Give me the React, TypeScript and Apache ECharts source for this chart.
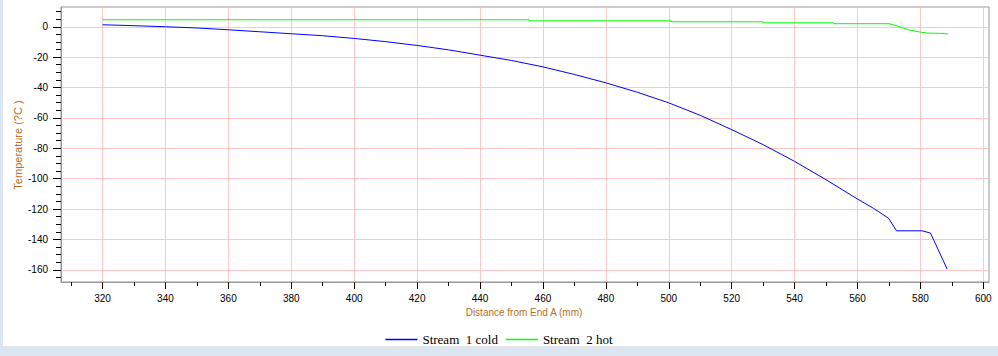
import React, { useEffect, useRef } from "react";
import * as echarts from "echarts";

const xMajorTicks = [320, 340, 360, 380, 400, 420, 440, 460, 480, 500, 520, 540, 560, 580, 600];
const xMinorTicks = [310, 330, 350, 370, 390, 410, 430, 450, 470, 490, 510, 530, 550, 570, 590];
const yMajorTicks = [0, -20, -40, -60, -80, -100, -120, -140, -160];
const yMinorTicks = [10, 5, -5, -10, -15, -25, -30, -35, -45, -50, -55, -65, -70, -75, -85, -90, -95, -105, -110, -115, -125, -130, -135, -145, -150, -155, -165];

const stream1Name = "Stream\u00a0 1 cold";
const stream2Name = "Stream\u00a0 2 hot";

const stream1Cold: [number, number][] = [
  [320, 1.3], [330, 0.7], [340, 0], [350, -0.8], [360, -2.0], [370, -3.3], [380, -4.6],
  [390, -5.9], [400, -7.7], [410, -9.8], [420, -12.3], [430, -15.2], [440, -18.7],
  [450, -22.2], [460, -26.4], [470, -31.4], [480, -36.9], [490, -43.1], [500, -50.1],
  [510, -58.3], [520, -67.7], [530, -77.6], [540, -88.6], [550, -100.7], [560, -113.4],
  [565, -119.4], [569.9, -126.1], [572.4, -134.3], [580.5, -134.3], [583.2, -135.8],
  [588.5, -159.5],
];

const stream2Hot: [number, number][] = [
  [320, 4.6], [455.6, 4.6], [455.6, 3.9], [500.7, 3.9], [500.7, 3.3], [530, 3.3],
  [530, 2.6], [552.4, 2.6], [552.4, 2.0], [570, 2.0], [571.7, 1.1], [576.2, -2.0],
  [579.4, -3.3], [582.1, -4.2], [586, -4.3], [588.8, -4.8],
];

const xMin = 306.8;
const xMax = 601.8;
const yMin = -168;
const yMax = 13;

const sans = "'Liberation Sans', Arial, sans-serif";
const serif = "'Liberation Serif', 'Times New Roman', serif";
const titleColor = "#b86f28";

export default function App() {
  const ref = useRef<HTMLDivElement>(null);

  useEffect(() => {
    if (!ref.current) return;
    const chart = echarts.init(ref.current, undefined, { renderer: "svg" });
    const minorAxisCommon = {
      axisLabel: { show: false },
      splitLine: { show: false },
    };
    chart.setOption({
      animation: false,
      backgroundColor: "transparent",
      grid: {
        left: 61, top: 7, right: 9, bottom: 74,
        show: true, borderColor: "#999", borderWidth: 1, backgroundColor: "#fff",
      },
      xAxis: [
        {
          type: "value", min: xMin, max: xMax, position: "bottom",
          axisLine: { show: true, onZero: false, lineStyle: { color: "#999", width: 1 } },
          axisTick: { show: true, customValues: xMajorTicks, length: 7, lineStyle: { color: "#000" } },
          axisLabel: { customValues: xMajorTicks, margin: 11, fontSize: 10, color: "#000", fontFamily: sans },
          splitLine: { show: true, lineStyle: { color: "#ffc6c6", width: 1 } },
        },
        {
          type: "value", min: xMin, max: xMax, position: "bottom",
          axisLine: { show: false, onZero: false },
          axisTick: { show: true, customValues: xMinorTicks, length: 4, lineStyle: { color: "#000" } },
          ...minorAxisCommon,
        },
      ],
      yAxis: [
        {
          type: "value", min: yMin, max: yMax, position: "left",
          axisLine: { show: true, onZero: false, lineStyle: { color: "#999", width: 1 } },
          axisTick: { show: true, customValues: yMajorTicks, length: 8, lineStyle: { color: "#000" } },
          axisLabel: { customValues: yMajorTicks, margin: 13, fontSize: 10, color: "#000", fontFamily: sans },
          splitLine: { show: true, lineStyle: { color: "#ffc6c6", width: 1 } },
        },
        {
          type: "value", min: yMin, max: yMax, position: "left",
          axisLine: { show: false, onZero: false },
          axisTick: { show: true, customValues: yMinorTicks, length: 5, lineStyle: { color: "#000" } },
          ...minorAxisCommon,
        },
      ],
      legend: {
        data: [stream1Name, stream2Name],
        left: "center",
        top: 328,
        icon: "rect",
        itemWidth: 32,
        itemHeight: 1.5,
        itemGap: 8,
        textStyle: { fontFamily: serif, fontSize: 13, color: "#000" },
      },
      graphic: [
        {
          type: "text",
          x: 18, y: 145, rotation: Math.PI / 2,
          style: {
            text: "Temperature (?C )", fill: titleColor, fontFamily: sans, fontSize: 11,
            align: "center", verticalAlign: "middle",
          },
        },
        {
          type: "text",
          x: 524, y: 312,
          style: {
            text: "Distance from End A (mm)", fill: titleColor, fontFamily: sans, fontSize: 10,
            align: "center", verticalAlign: "middle",
          },
        },
      ],
      series: [
        {
          name: stream2Name, type: "line", xAxisIndex: 0, yAxisIndex: 0,
          showSymbol: false, data: stream2Hot, color: "#00ff00",
          lineStyle: { width: 1, color: "#00ff00" },
        },
        {
          name: stream1Name, type: "line", xAxisIndex: 0, yAxisIndex: 0,
          showSymbol: false, data: stream1Cold, color: "#0000ff",
          lineStyle: { width: 1, color: "#0000ff" },
        },
      ],
    });
    return () => chart.dispose();
  }, []);

  return (
    <div style={{ position: "absolute", left: 0, top: 0, width: 998, height: 356, background: "#dce6f2", overflow: "hidden" }}>
      <div style={{ position: "absolute", left: 3, top: 0, width: 995, height: 346, background: "#fff", borderBottom: "1px solid #e4e4e4" }} />
      <div ref={ref} style={{ position: "absolute", left: 0, top: 0, width: 998, height: 356 }} />
    </div>
  );
}
